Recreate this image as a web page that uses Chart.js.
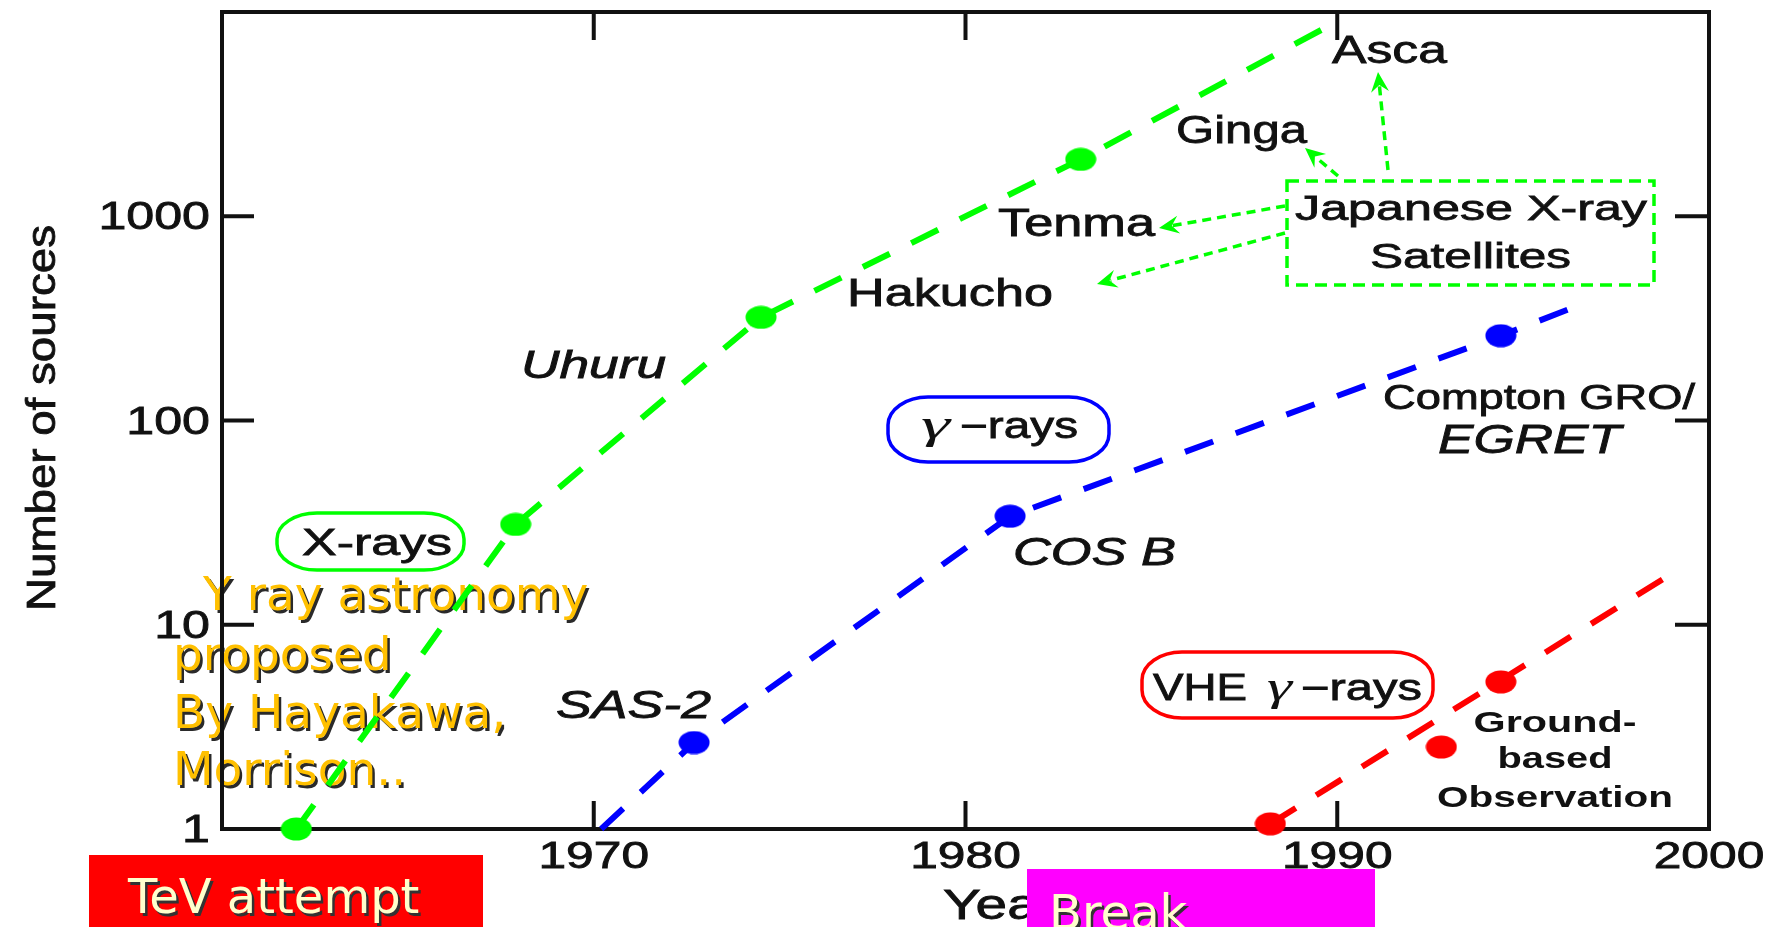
<!DOCTYPE html>
<html>
<head>
<meta charset="utf-8">
<title>Number of sources vs year</title>
<script src="https://cdn.jsdelivr.net/npm/chart.js@4.4.1/dist/chart.umd.min.js"></script>
<style>
  html, body { margin: 0; padding: 0; background: #ffffff; overflow: hidden; }
  #wrap { width: 1769px; height: 927px; position: relative; }
</style>
</head>
<body>
<div id="wrap"><canvas id="c"></canvas></div>
<script>
// ---- X-ray sources (green) ----
const xrayLineYears  = [1962.0, 1967.9, 1974.5, 1983.1, 1990.0];
const xrayLineCounts = [1, 31, 320, 1900, 9000];
const xrayDotYears   = [1962.0, 1967.9, 1974.5, 1983.1];
const xrayDotCounts  = [1, 31, 320, 1900];

// ---- gamma-ray sources (blue) ----
const gammaLineYears  = [1970.2, 1972.7, 1981.2, 1994.4, 1996.3];
const gammaLineCounts = [1, 2.65, 34, 260, 355];
const gammaDotYears   = [1972.7, 1981.2, 1994.4];
const gammaDotCounts  = [2.65, 34, 260];

// ---- VHE gamma-ray sources, ground based (red) ----
const vheLineYears  = [1988.2, 1998.8];
const vheLineCounts = [1.06, 16.9];
const vheDotYears   = [1988.2, 1992.8, 1994.4];
const vheDotCounts  = [1.06, 2.52, 5.25];

// ---- axes ----
const yearMin = 1960, yearMax = 2000;
const countMin = 1, countMax = 10000;
const xTickValues = [1970, 1980, 1990, 2000];
const xTickLabels = ['1970', '1980', '1990', '2000'];
const xTickMarks  = [1970, 1980, 1990];
const yTickValues = [1, 10, 100, 1000];
const yTickLabels = ['1', '10', '100', '1000'];
const yTickMarks  = [10, 100, 1000];

const GREEN = '#00ff00', BLUE = '#0000ff', RED = '#ff0000', INK = '#111111';
const FIG = '"Liberation Sans", Arial, Helvetica, sans-serif';
const SERIF = '"Liberation Serif", "Times New Roman", serif';
const SLIDE = '"DejaVu Sans", Verdana, sans-serif';

function pts(xs, ys) { return xs.map((x, i) => ({ x: x, y: ys[i] })); }

// filled oval marker
function dotImage(color) {
  const c = document.createElement('canvas');
  c.width = 32; c.height = 24;
  const g = c.getContext('2d');
  g.fillStyle = color;
  g.beginPath();
  g.ellipse(16, 12, 15.5, 11.5, 0, 0, Math.PI * 2);
  g.fill();
  return c;
}

function lineSet(xs, ys, color) {
  return {
    data: pts(xs, ys), showLine: true, borderColor: color, borderWidth: 6,
    borderDash: [30, 24], borderCapStyle: 'butt', pointRadius: 0,
    fill: false, tension: 0, clip: false
  };
}
function dotSet(xs, ys, color) {
  return {
    data: pts(xs, ys), showLine: false, pointStyle: dotImage(color),
    pointRadius: 12, backgroundColor: color, borderWidth: 0, clip: false
  };
}

// text helper: x is the anchor, y the baseline; w stretches the run to a width
function txt(ctx, s, x, y, o) {
  ctx.save();
  ctx.font = (o.style || 'normal') + ' ' + (o.weight || 'normal') + ' ' + o.size + 'px ' + (o.family || FIG);
  ctx.textAlign = 'left';
  ctx.textBaseline = 'alphabetic';
  const m = ctx.measureText(s).width;
  const sx = o.w ? o.w / m : (o.sx || 1);
  const W = m * sx;
  let left = x;
  if (o.align === 'center') left = x - W / 2;
  else if (o.align === 'right') left = x - W;
  ctx.translate(left, y);
  ctx.scale(sx, 1);
  if (o.shadow) {
    ctx.fillStyle = o.shadow;
    ctx.fillText(s, 2.5 / sx, 2.5);
  }
  ctx.fillStyle = o.color || INK;
  ctx.fillText(s, 0, 0);
  const heavy = o.heavy === undefined ? (o.family === undefined || o.family === FIG) && o.weight !== 'bold' : o.heavy;
  if (heavy) {
    ctx.strokeStyle = o.color || INK;
    ctx.lineWidth = 0.8;
    ctx.strokeText(s, 0, 0);
  }
  ctx.restore();
}

function roundBox(ctx, x, y, w, h, rx, ry, color) {
  ctx.save();
  ctx.strokeStyle = color;
  ctx.lineWidth = 3.5;
  ctx.beginPath();
  ctx.moveTo(x + rx, y);
  ctx.lineTo(x + w - rx, y);
  ctx.bezierCurveTo(x + w - rx * 0.45, y, x + w, y + ry * 0.45, x + w, y + ry);
  ctx.lineTo(x + w, y + h - ry);
  ctx.bezierCurveTo(x + w, y + h - ry * 0.45, x + w - rx * 0.45, y + h, x + w - rx, y + h);
  ctx.lineTo(x + rx, y + h);
  ctx.bezierCurveTo(x + rx * 0.45, y + h, x, y + h - ry * 0.45, x, y + h - ry);
  ctx.lineTo(x, y + ry);
  ctx.bezierCurveTo(x, y + ry * 0.45, x + rx * 0.45, y, x + rx, y);
  ctx.closePath();
  ctx.stroke();
  ctx.restore();
}

function arrow(ctx, x1, y1, x2, y2) {
  const a = Math.atan2(y2 - y1, x2 - x1);
  const L = 20, W = 9;
  ctx.save();
  ctx.strokeStyle = GREEN;
  ctx.fillStyle = GREEN;
  ctx.lineWidth = 3.5;
  ctx.setLineDash([9, 6]);
  ctx.beginPath();
  ctx.moveTo(x1, y1);
  ctx.lineTo(x2 - Math.cos(a) * L * 0.7, y2 - Math.sin(a) * L * 0.7);
  ctx.stroke();
  ctx.setLineDash([]);
  ctx.translate(x2, y2);
  ctx.rotate(a);
  ctx.beginPath();
  ctx.moveTo(0, 0);
  ctx.lineTo(-L, -W);
  ctx.lineTo(-L * 0.65, 0);
  ctx.lineTo(-L, W);
  ctx.closePath();
  ctx.fill();
  ctx.restore();
}

const decorations = {
  id: 'decorations',
  beforeDraw(chart) {
    const ctx = chart.ctx;
    ctx.save();
    ctx.fillStyle = '#ffffff';
    ctx.fillRect(0, 0, chart.width, chart.height);
    ctx.restore();
  },
  beforeDatasetsDraw(chart) {
    const ctx = chart.ctx;
    const a = chart.chartArea;
    const xs = chart.scales.x, ys = chart.scales.y;

    // slide note behind the figure
    const note = { size: 47, family: SLIDE, color: '#ffc000', shadow: '#2a2a2a' };
    txt(ctx, 'Y ray astronomy', 203, 610, note);
    txt(ctx, 'proposed', 173, 670, note);
    txt(ctx, 'By Hayakawa,', 173, 728, note);
    txt(ctx, 'Morrison..', 173, 785, note);

    // frame
    ctx.save();
    ctx.strokeStyle = INK;
    ctx.lineWidth = 4;
    ctx.strokeRect(a.left, a.top, a.right - a.left, a.bottom - a.top);
    ctx.beginPath();
    xTickMarks.forEach(v => {
      const px = xs.getPixelForValue(v);
      ctx.moveTo(px, a.bottom); ctx.lineTo(px, a.bottom - 28);
      ctx.moveTo(px, a.top); ctx.lineTo(px, a.top + 28);
    });
    yTickMarks.forEach(v => {
      const py = ys.getPixelForValue(v);
      ctx.moveTo(a.left, py); ctx.lineTo(a.left + 32, py);
      ctx.moveTo(a.right, py); ctx.lineTo(a.right - 34, py);
    });
    ctx.stroke();
    ctx.restore();

    // tick labels
    xTickValues.forEach((v, i) => {
      txt(ctx, xTickLabels[i], xs.getPixelForValue(v), 868, { size: 36, sx: 1.38, align: 'center' });
    });
    yTickValues.forEach((v, i) => {
      txt(ctx, yTickLabels[i], 210, ys.getPixelForValue(v) + 13, { size: 38, sx: 1.32, align: 'right' });
    });

    // axis titles
    txt(ctx, 'Year', 943, 919, { size: 42, sx: 1.35 });
    ctx.save();
    ctx.translate(55, 418);
    ctx.rotate(-Math.PI / 2);
    txt(ctx, 'Number of sources', 0, 0, { size: 41, w: 386, align: 'center' });
    ctx.restore();
  },
  afterDatasetsDraw(chart) {
    const ctx = chart.ctx;

    // Japanese X-ray satellites
    txt(ctx, 'Asca', 1332, 63, { size: 39, w: 115 });
    txt(ctx, 'Ginga', 1176, 143, { size: 39, w: 131 });
    txt(ctx, 'Tenma', 998, 236, { size: 38, w: 157 });
    txt(ctx, 'Hakucho', 847, 306, { size: 38, w: 206 });
    txt(ctx, 'Uhuru', 521, 378, { size: 38, w: 145, style: 'italic' });

    ctx.save();
    ctx.strokeStyle = GREEN;
    ctx.lineWidth = 3.5;
    ctx.setLineDash([12, 7]);
    ctx.strokeRect(1287, 181, 367, 104);
    ctx.restore();
    txt(ctx, 'Japanese X-ray', 1295, 220, { size: 35, w: 352 });
    txt(ctx, 'Satellites', 1370, 268, { size: 35, w: 201 });

    arrow(ctx, 1388, 170, 1378, 72);
    arrow(ctx, 1338, 176, 1305, 148);
    arrow(ctx, 1285, 206, 1159, 228);
    arrow(ctx, 1285, 233, 1097, 284);

    // X-rays tag
    roundBox(ctx, 277, 513, 187, 57, 40, 26, GREEN);
    txt(ctx, 'X-rays', 302, 555, { size: 36, w: 150 });

    // gamma-ray tag and missions
    roundBox(ctx, 888, 397, 221, 65, 40, 28, BLUE);
    txt(ctx, 'γ', 921, 438, { size: 40, w: 29, style: 'italic', family: SERIF });
    txt(ctx, '−rays', 960, 438, { size: 36, w: 118 });
    txt(ctx, 'COS B', 1013, 565, { size: 38, w: 163, style: 'italic' });
    txt(ctx, 'SAS-2', 556, 718, { size: 38, w: 155, style: 'italic' });
    txt(ctx, 'Compton GRO/', 1383, 409, { size: 35, w: 312 });
    txt(ctx, 'EGRET', 1438, 453, { size: 41, w: 183, style: 'italic' });

    // VHE tag
    roundBox(ctx, 1142, 652, 291, 66, 40, 28, RED);
    txt(ctx, 'VHE', 1153, 700, { size: 36, w: 94 });
    txt(ctx, 'γ', 1267, 700, { size: 40, w: 25, style: 'italic', family: SERIF });
    txt(ctx, '−rays', 1301, 700, { size: 36, w: 121 });
    txt(ctx, 'Ground-', 1555, 732, { size: 30, w: 163, weight: 'bold', align: 'center' });
    txt(ctx, 'based', 1555, 768, { size: 30, w: 115, weight: 'bold', align: 'center' });
    txt(ctx, 'Observation', 1555, 807, { size: 30, w: 236, weight: 'bold', align: 'center' });

    // slide buttons along the bottom
    ctx.save();
    ctx.fillStyle = '#ff0000';
    ctx.fillRect(89, 855, 394, 80);
    ctx.fillStyle = '#ff00ff';
    ctx.fillRect(1027, 869, 348, 66);
    ctx.restore();
    const btn = { size: 48, family: SLIDE, color: '#ffffcc', shadow: '#333333' };
    txt(ctx, 'TeV attempt', 128, 913, btn);
    txt(ctx, 'Break', 1049, 929, btn);
  }
};

new Chart(document.getElementById('c'), {
  type: 'scatter',
  data: {
    datasets: [
      lineSet(xrayLineYears, xrayLineCounts, GREEN),
      dotSet(xrayDotYears, xrayDotCounts, GREEN),
      lineSet(gammaLineYears, gammaLineCounts, BLUE),
      dotSet(gammaDotYears, gammaDotCounts, BLUE),
      lineSet(vheLineYears, vheLineCounts, RED),
      dotSet(vheDotYears, vheDotCounts, RED)
    ]
  },
  options: {
    responsive: true,
    maintainAspectRatio: false,
    animation: false,
    events: [],
    layout: { padding: { left: 222, right: 60, top: 11, bottom: 98 } },
    plugins: { legend: { display: false }, tooltip: { enabled: false } },
    scales: {
      x: { type: 'linear', min: yearMin, max: yearMax, display: false },
      y: { type: 'logarithmic', min: countMin, max: countMax, display: false }
    }
  },
  plugins: [decorations]
});
</script>
</body>
</html>
